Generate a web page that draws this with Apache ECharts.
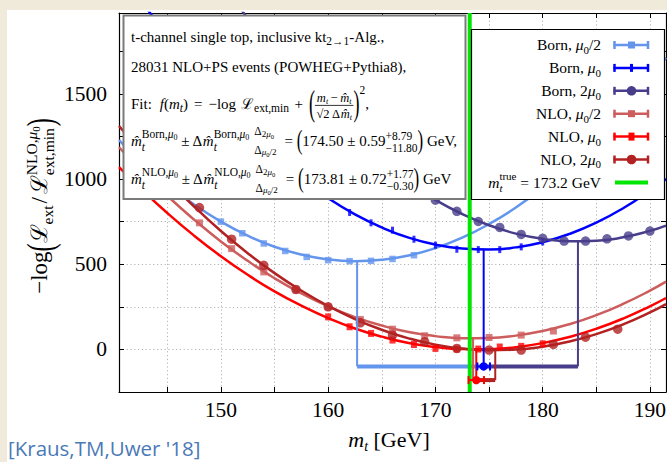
<!DOCTYPE html>
<html><head><meta charset="utf-8">
<script src="https://cdn.jsdelivr.net/npm/echarts@6/dist/echarts.min.js"></script>
<style>
html,body{margin:0;padding:0;width:667px;height:462px;overflow:hidden;background:#efeada;}
#panel{position:absolute;left:7px;top:10px;width:660px;height:452px;background:#fff;}
#chart{position:absolute;left:0;top:0;width:667px;height:462px;}
</style></head><body><div id="panel"></div><div id="chart"></div>
<script>
// ---------------- data ----------------
const curveM        = [140.5,142.5,145,147.5,150,152.5,155,157.5,160,162.5,165,167.5,170,172.5,175,177.5,180,182.5,185,187.5,190,191.5];
const curveBornHalf = [1228,1106,969,851,750,668,603,557,528,518,526,551,595,656,736,833,949,1083,1234,1404,1591,1712];
const curveBorn1    = [2246,2056,1836,1633,1448,1281,1132,1001,888,793,716,656,615,592,586,599,629,678,744,829,931,1001];
const curveBorn2    = [3162,2931,2658,2403,2164,1943,1739,1553,1383,1231,1096,978,878,795,729,680,649,635,638,658,696,727];
const curveNLOHalf  = [1187,1055,902,762,634,520,418,329,253,190,140,102,78,66,67,81,108,148,201,267,345,398];
const curveNLO1     = [1070,946,801,668,547,438,341,257,184,123,75,38,14,2,1,13,37,73,121,181,253,302];
const curveNLO2     = [1312,1166,996,839,695,565,448,345,255,178,115,65,28,5,-5,-1,16,46,90,147,217,266];

const ptsBornHalfM = [150,152,154,156,158,160,162,164,166,168];
const ptsBornHalfV = [750,682,622,578,543,524,518,520,531,553];
const ptsBorn1M    = [162,164,166,168,170,172,174,176,178,180];
const ptsBorn1V    = [804,743,700,647,612,588,586,586,602,631];
const ptsBorn2M    = [170,172,174,176,178,180,182,184,186,188,190];
const ptsBorn2V    = [876,811,751,716,675,652,636,636,649,666,695];
const ptsNLOHalfM  = [148,151,154,157,160,163,166,169,172,175,178,181];
const ptsNLOHalfV  = [743,592,455,348,250,176,119,80,68,70,84,108];
const ptsNLO1M     = [160,162,164,166,168,170,172,174,176,178,180];
const ptsNLO1V     = [191,133,94,55,29,6,2,2,14,18,33];
const ptsNLO2M     = [148,151,154,157,160,163,166,169,172,175,178,181,184,187];
const ptsNLO2V     = [833,647,494,352,250,156,84,45,6,-4,-4,29,72,119];

const bornFitM   = [162.70, 174.50, 183.29];   // mu0/2, mu0, 2mu0
const bornFitMin = [518, 586, 634];
const bornErr    = 0.59;
const nloFitM    = [173.51, 173.81, 175.58];
const nloFitMin  = [65, 0, -5];
const nloErr     = 0.72;
const mTrue      = 173.2;

const xTicks  = [145,150,155,160,165,170,175,180,185,190];
const xLabels = [150,160,170,180,190];
const yTicks  = [-250,0,250,500,750,1000,1250,1500,1750];
const yLabels = [0,500,1000,1500];

// ---------------- styles ----------------
const LB='#6495ED', BL='#0000FF', PU='#483D8B', IR='#CD5C5C', RD='#FF0000', FB='#B22222', GR='#00E600';
const SERIF = "'Liberation Serif','DejaVu Serif','Times New Roman',serif";
const BORN_ROW = -100, NLO_ROW = -180;

// ---------------- text layout helper ----------------
const ctx = document.createElement('canvas').getContext('2d');
function fstr(tk){ return (tk.it?'italic ':'') + tk.s + 'px ' + (tk.fam||SERIF); }
function tw(tk){ ctx.font = fstr(tk); return ctx.measureText(tk.t).width; }
function mk(tk, x, base, z, color){
  const el = {type:'text', x:x, y: base - (tk.dy||0) - 0.34*tk.s, z:z, silent:true,
    style:{text:tk.t, font:fstr(tk), fill: tk.c||color||'#000', align:'left', verticalAlign:'middle'}};
  if (tk.sy) el.scaleY = tk.sy;
  return el;
}
function run(list, x, base, out, z, color){
  let cx = x;
  for (const tk of list){
    if (tk.sp != null){ cx += tk.sp; continue; }
    if (tk.stack){
      const ws = tk.stack.map(l => run(l, 0, 0, null));
      const pad = tk.pad||0;
      const w = Math.max.apply(null, ws) + pad*2;
      if (out){
        tk.stack.forEach((l,i) => {
          const off = tk.center ? (w - ws[i])/2 : 0;
          run(l, cx + off, base - tk.dys[i], out, z, color);
        });
        if (tk.bar != null) out.push({type:'line', z:z, silent:true,
          shape:{x1:cx, y1:base - tk.bar, x2:cx+w, y2:base - tk.bar}, style:{stroke:color||'#000', lineWidth:0.8}});
      }
      cx += w; continue;
    }
    if (out) out.push(mk(tk, cx, base, z, color));
    cx += tw(tk);
  }
  return cx - x;
}
const S=15, s1=11.5, s2=8, s3=6.5, fr=12.5;
const HAT='m\u0302';
function supsub(word){
  return {stack:[[{t:word+',',s:s1},{t:'μ',s:s1,it:1},{t:'0',s:s2,dy:-2}],[{t:'t',s:s1,it:1}]], dys:[8,-4.5]};
}
const deltaStack = {stack:[[{t:'Δ',s:s1},{t:'2',s:9,dy:-2},{t:'μ',s:9,it:1,dy:-2},{t:'0',s:s3,dy:-3.5}],
                           [{t:'Δ',s:s1},{t:'μ',s:9,it:1,dy:-2},{t:'0',s:s3,dy:-3.5},{t:'/2',s:9,dy:-2}]], dys:[11,-7.5]};
const lines = [
  [42,  [{t:'t-channel single top, inclusive kt',s:S},{t:'2→1',s:s1,dy:-3},{t:'-Alg.,',s:S}]],
  [72.5,[{t:'28031 NLO+PS events (POWHEG+Pythia8),',s:S}]],
  [109, [{t:'Fit:',s:S},{sp:8},{t:'f',s:S,it:1},{t:'(',s:S},{t:'m',s:S,it:1},{t:'t',s:s1,it:1,dy:-3},{t:')',s:S},
         {sp:6},{t:'=',s:S},{sp:6},{t:'−log',s:S},{sp:5},{t:'ℒ',s:S},{t:'ext,min',s:s1,dy:-3},{sp:5.5},{t:'+',s:S},{sp:6},
         {t:'(',s:18,sy:2.0},
         {stack:[[{t:'m',s:fr,it:1},{t:'t',s:s2,it:1,dy:-2},{sp:2.5},{t:'−',s:fr},{sp:2.5},{t:HAT,s:fr,it:1},{t:'t',s:s2,it:1,dy:-2}],
                 [{t:'√2 Δ',s:fr},{t:HAT,s:fr,it:1},{t:'t',s:s2,it:1,dy:-2}]], dys:[7,-9], center:1, bar:3.6, pad:1.5},
         {t:')',s:18,sy:2.0},{t:'2',s:s1,dy:15},{t:',',s:S}]],
  [146, [{t:HAT,s:S,it:1},supsub('Born'),{t:' ± Δ',s:S},{t:HAT,s:S,it:1},supsub('Born'),{sp:5},deltaStack,{sp:8},
         {t:'= ',s:S},{t:'(',s:17,sy:1.6},{t:'174.50 ± 0.59',s:S},
         {stack:[[{t:'+8.79',s:s1}],[{t:'−11.80',s:s1}]], dys:[6.5,-5.5]},{t:')',s:17,sy:1.6},{t:' GeV,',s:S}]],
  [184, [{t:HAT,s:S,it:1},supsub('NLO'),{t:' ± Δ',s:S},{t:HAT,s:S,it:1},supsub('NLO'),{sp:5},deltaStack,{sp:8},
         {t:'= ',s:S},{t:'(',s:17,sy:1.6},{t:'173.81 ± 0.72',s:S},
         {stack:[[{t:'+1.77',s:s1}],[{t:'−0.30',s:s1}]], dys:[6.5,-5.5]},{t:')',s:17,sy:1.6},{t:' GeV',s:S}]]
];

const G = [];
G.push({type:'rect', z:100, silent:true, shape:{x:123.5,y:15.5,width:342,height:183.5}, style:{fill:'#fff', stroke:'#7a7a7a', lineWidth:2}});
lines.forEach(([b, l]) => run(l, 131, b, G, 101));

// legend box
G.push({type:'rect', z:100, silent:true, shape:{x:471.5,y:29.5,width:193,height:170}, style:{fill:'#fff', stroke:'#000', lineWidth:1.2}});
const LS = 15.5;
function muTok(pre, post){ const a=[{t:pre,s:LS},{t:'μ',s:LS,it:1},{t:'0',s:11,dy:-3.5}]; if(post) a.push({t:post,s:LS}); return a; }
const legendItems = [
  [muTok('Born, ','/2'), LB, 'sq'],
  [muTok('Born, '), BL, 'tick'],
  [muTok('Born, 2'), PU, 'circ'],
  [muTok('NLO, ','/2'), IR, 'sq'],
  [muTok('NLO, '), RD, 'rtick'],
  [muTok('NLO, 2'), FB, 'circ'],
  [[{t:'m',s:LS,it:1},{stack:[[{t:'true',s:11}],[{t:'t',s:11,it:1}]],dys:[7.5,-4]},{t:' = 173.2 GeV',s:LS}], GR, 'none']
];
const legendY = [45,67.9,90.8,113.7,136.6,159.5,182.4];
legendItems.forEach(([toks,col,mark],i) => {
  const y = legendY[i];
  const w = run(toks,0,0,null);
  run(toks, 601 - w, y + 5.2, G, 101);
  if (mark === 'none'){
    G.push({type:'line', z:101, silent:true, shape:{x1:615,y1:y,x2:648,y2:y}, style:{stroke:col,lineWidth:4}});
    return;
  }
  G.push({type:'line', z:101, silent:true, shape:{x1:613.5,y1:y,x2:649,y2:y}, style:{stroke:col,lineWidth:2.5}});
  G.push({type:'line', z:101, silent:true, shape:{x1:614.5,y1:y-4,x2:614.5,y2:y+4}, style:{stroke:col,lineWidth:2.5}});
  G.push({type:'line', z:101, silent:true, shape:{x1:648,y1:y-4,x2:648,y2:y+4}, style:{stroke:col,lineWidth:2.5}});
  const cx = 631.5;
  if (mark==='sq') G.push({type:'rect', z:102, silent:true, shape:{x:cx-3.5,y:y-3.5,width:7,height:7}, style:{fill:col}});
  if (mark==='tick') G.push({type:'rect', z:102, silent:true, shape:{x:cx-1.5,y:y-4,width:3,height:8}, style:{fill:col}});
  if (mark==='rtick') G.push({type:'rect', z:102, silent:true, shape:{x:cx-3,y:y-4,width:6,height:8}, style:{fill:col}});
  if (mark==='circ') G.push({type:'circle', z:102, silent:true, shape:{cx:cx,cy:y,r:4.8}, style:{fill:col}});
});

// y-axis title (rotated)
const yt = [{t:'−log',s:23},{t:'(',s:24,sy:1.6},{t:'ℒ',s:23},{t:'ext',s:15.5,dy:-5},{sp:2},{t:'/',s:23},{sp:3},{t:'ℒ',s:23},
  {stack:[[{t:'NLO,',s:15.5},{t:'μ',s:15.5,it:1},{t:'0',s:11,dy:-2.5}],[{t:'ext,min',s:15.5}]],dys:[10.5,-6]},{t:')',s:24,sy:1.6}];
const ytW = run(yt,0,0,null);
const ytEls = [];
run(yt, -ytW/2, 7.5, ytEls, 101);
G.push({type:'group', x:40, y:206, rotation:Math.PI/2, children: ytEls});

// x-axis title
const xt = [{t:'m',s:22,it:1},{t:'t',s:14,it:1,dy:-4.5},{t:' [GeV]',s:22}];
const xtW = run(xt,0,0,null);
run(xt, 389 - xtW/2, 447, G, 101);

// citation
G.push({type:'text', x:8, y:448, z:101, silent:true, style:{text:"[Kraus,TM,Uwer '18]", font:"20.5px 'Open Sans'", fill:'#4b79b6', align:'left', verticalAlign:'middle'}});

// ---------------- series ----------------
const series = [];
const curveSets = [[curveBornHalf,LB],[curveBorn1,BL],[curveBorn2,PU],[curveNLOHalf,IR],[curveNLO1,RD],[curveNLO2,FB]];
curveSets.forEach(([v,c]) => series.push({type:'line', smooth:0.5, symbol:'none', silent:true, z:3,
  data: curveM.map((m,i)=>[m,v[i]]), lineStyle:{color:c,width:2.5}}));

const ptSets = [
  [ptsBornHalfM, ptsBornHalfV, LB, 'rect', 6.5],
  [ptsBorn1M, ptsBorn1V, BL, 'rect', [3,7]],
  [ptsBorn2M, ptsBorn2V, PU, 'circle', 9.5],
  [ptsNLOHalfM, ptsNLOHalfV, IR, 'rect', 7],
  [ptsNLO1M, ptsNLO1V, RD, 'rect', [6,7]],
  [ptsNLO2M, ptsNLO2V, FB, 'circle', 9.5]
];
ptSets.forEach(([ms,vs,c,sym,size]) => series.push({type:'scatter', silent:true, z:4, symbol:sym, symbolSize:size,
  itemStyle:{color:c}, data: ms.map((m,i)=>[m,vs[i]])}));

function seg(data, color, width, z){
  series.push({type:'line', symbol:'none', silent:true, z:z, data:data, lineStyle:{color:color,width:width,cap:'butt'}});
}
const bornCols = [LB,BL,PU], nloCols = [IR,RD,FB];
bornFitM.forEach((m,i) => seg([[m,bornFitMin[i]],[m,BORN_ROW]], bornCols[i], 2, 5));
nloFitM.forEach((m,i) => seg([[m,nloFitMin[i]],[m,NLO_ROW]], nloCols[i], 2, 7));
seg([[bornFitM[0],BORN_ROW],[bornFitM[1],BORN_ROW]], LB, 4, 5);
seg([[bornFitM[1],BORN_ROW],[bornFitM[2],BORN_ROW]], PU, 4, 5);
seg([[mTrue,-250],[mTrue,1975]], GR, 4, 6);
seg([[nloFitM[0],NLO_ROW],[nloFitM[1],NLO_ROW]], IR, 4, 7);
seg([[nloFitM[1],NLO_ROW],[nloFitM[2],NLO_ROW]], FB, 4, 7);

function errBar(color){
  return function(params, api){
    const c = api.coord([api.value(0), api.value(1)]);
    const lo = api.coord([api.value(2), api.value(1)]);
    const hi = api.coord([api.value(3), api.value(1)]);
    const st = {stroke:color, lineWidth:2};
    return {type:'group', children:[
      {type:'line', shape:{x1:lo[0],y1:c[1],x2:hi[0],y2:c[1]}, style:st},
      {type:'line', shape:{x1:lo[0],y1:c[1]-4,x2:lo[0],y2:c[1]+4}, style:st},
      {type:'line', shape:{x1:hi[0],y1:c[1]-4,x2:hi[0],y2:c[1]+4}, style:st},
      {type:'circle', shape:{cx:c[0],cy:c[1],r:4.2}, style:{fill:color}}
    ]};
  };
}
series.push({type:'custom', silent:true, z:8, renderItem: errBar(BL),
  data:[[bornFitM[1], BORN_ROW, bornFitM[1]-bornErr, bornFitM[1]+bornErr]]});
series.push({type:'custom', silent:true, z:8, renderItem: errBar(RD),
  data:[[nloFitM[1], NLO_ROW, nloFitM[1]-nloErr, nloFitM[1]+nloErr]]});

// ---------------- axes ----------------
const lab = {fontFamily:SERIF, fontSize:21.5, color:'#000', formatter: v => String(v)};
const gridLine = {show:true, lineStyle:{color:'#b4b4b4', width:1, type:[1.2,2.6]}};
const axLine = {show:true, onZero:false, lineStyle:{color:'#000', width:1.2}};
const xAxes = [
  {type:'value', min:140.5, max:191.5, position:'bottom', axisLine:axLine,
   axisTick:{show:true, inside:true, length:5, customValues:xTicks, lineStyle:{color:'#000',width:1}},
   axisLabel:Object.assign({customValues:xLabels, margin:7}, lab), splitLine:gridLine},
  {type:'value', min:140.5, max:191.5, position:'top', axisLine:axLine,
   axisTick:{show:true, inside:true, length:5, customValues:xTicks, lineStyle:{color:'#000',width:1}},
   axisLabel:{show:false}, splitLine:{show:false}}
];
const yAxes = [
  {type:'value', min:-250, max:1975, position:'left', axisLine:axLine,
   axisTick:{show:true, inside:true, length:5, customValues:yTicks, lineStyle:{color:'#000',width:1}},
   axisLabel:Object.assign({customValues:yLabels, margin:12}, lab), splitLine:gridLine},
  {type:'value', min:-250, max:1975, position:'right', axisLine:axLine,
   axisTick:{show:true, inside:true, length:5, customValues:yTicks, lineStyle:{color:'#000',width:1}},
   axisLabel:{show:false}, splitLine:{show:false}}
];

const chart = echarts.init(document.getElementById('chart'), null, {renderer:'svg', width:667, height:462});
chart.setOption({
  animation:false,
  backgroundColor:'transparent',
  grid:{left:119, right:1, top:13, bottom:70, containLabel:false, outerBoundsMode:'none'},
  xAxis:xAxes, yAxis:yAxes,
  series:series,
  graphic:{elements:G}
});
</script></body></html>
